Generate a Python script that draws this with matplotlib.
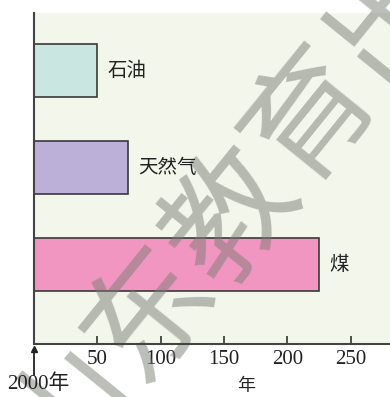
import matplotlib.pyplot as plt

fuels = ['石油', '天然气', '煤']
years_left = [50, 74, 225]
bar_colors = ['#c9e6e1', '#bdb0d8', '#f096c0']
xticks = [50, 100, 150, 200, 250]

cjk = ['Noto Sans CJK SC', 'DejaVu Sans']
serif = ['Liberation Serif', 'Noto Sans CJK SC']

fig = plt.figure(figsize=(3.9, 3.97), dpi=100)
fig.patch.set_facecolor('white')
ax = fig.add_axes([34 / 390, 1 - 344 / 397, 1 - 34 / 390, (344 - 13) / 397])
ax.set_facecolor('#f3f6ea')

ypos = [2, 1, 0]
ax.barh(ypos, years_left, height=0.55, color=bar_colors,
        edgecolor='#3a3a3a', linewidth=1.2, zorder=2)
for y, v, name in zip(ypos, years_left, fuels):
    ax.text(v + 8, y, name, family=cjk, fontsize=14, va='center',
            ha='left', color='#222222', fontweight='light', zorder=4)

ax.set_xlim(0, 281)
ax.set_ylim(-0.82, 2.593)
ax.set_yticks([])
ax.set_xticks(xticks)
ax.set_xticklabels([str(t) for t in xticks], family=serif, fontsize=15)
ax.tick_params(axis='x', direction='in', length=6, width=1.2,
               colors='#333333', labelcolor='#222222', pad=4)
for s in ['top', 'right']:
    ax.spines[s].set_visible(False)
for s in ['left', 'bottom']:
    ax.spines[s].set_color('#444444')
    ax.spines[s].set_linewidth(1.5)

# watermark (between bars and labels)
ax.text(310 / 390, 1 - 110 / 397, '山东教育出版社', family=cjk,
        fontsize=92, color='#7a7d75', alpha=0.5, transform=fig.transFigure,
        rotation=51, rotation_mode='anchor', ha='center', va='center',
        zorder=2.4, clip_on=False)

# arrow marking the year 2000 origin (axes-fraction y below the x axis)
arrow_tf = ax.get_xaxis_transform()
ax.plot([0, 0], [-0.095, -0.015], color='#222222', lw=1.3,
        transform=arrow_tf, clip_on=False, zorder=5)
ax.plot([0], [-0.015], marker='^', markersize=5, color='#222222',
        transform=arrow_tf, clip_on=False, zorder=5)
fig.text(7 / 390, 1 - 384 / 397, '2000年', family=serif, fontsize=15,
         va='center', ha='left', color='#222222')
fig.text(246 / 390, 1 - 386 / 397, '年', family=cjk, fontsize=13,
         va='center', ha='center', color='#222222')

fig.savefig('out.png', dpi=100)
